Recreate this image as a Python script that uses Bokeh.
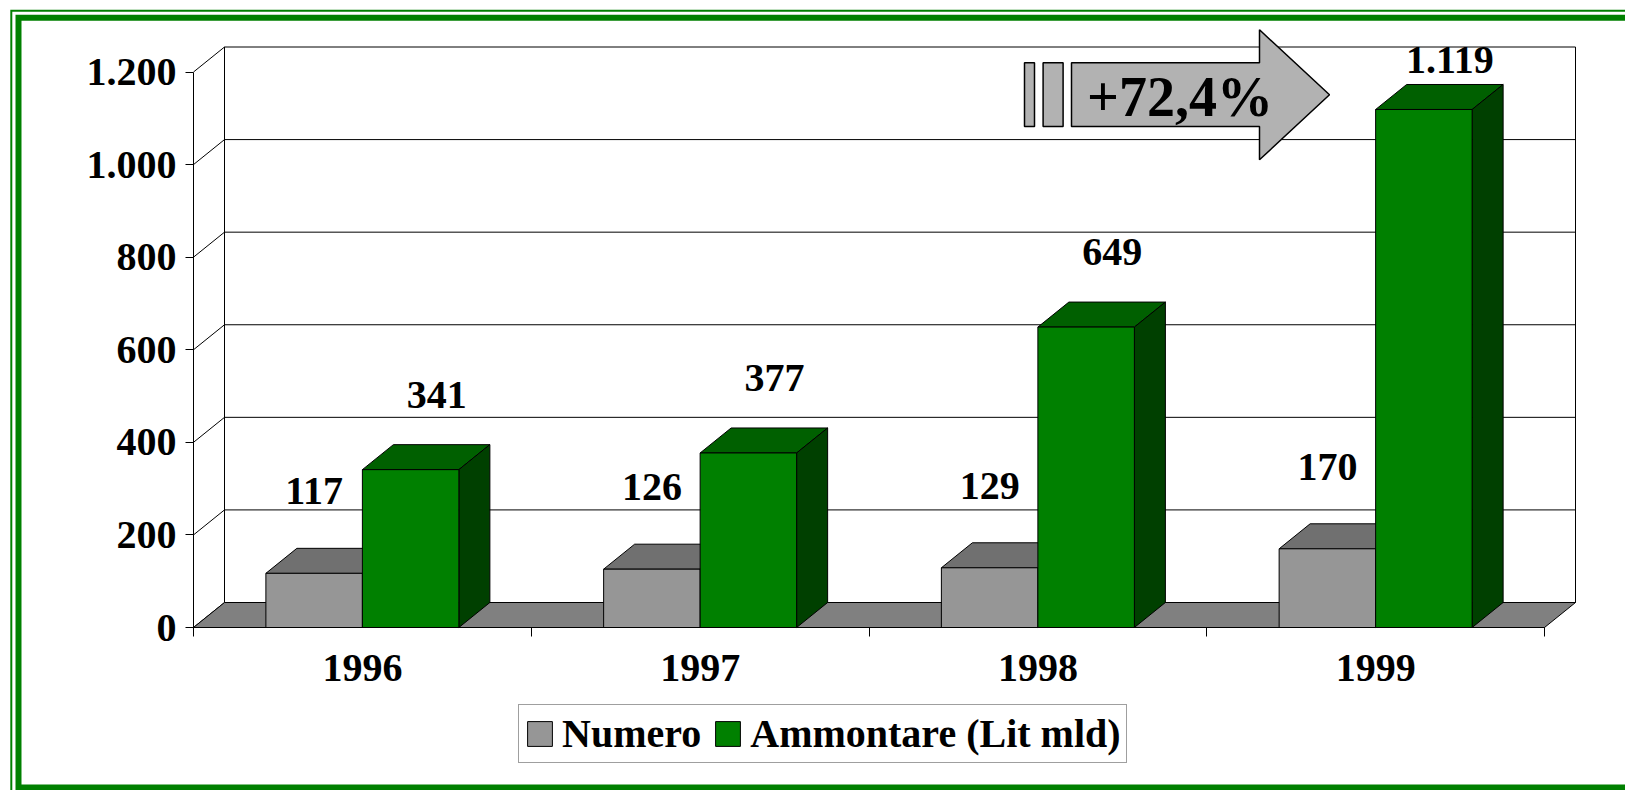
from bokeh.plotting import figure
from bokeh.models import Range1d, FixedTicker, Legend, LegendItem
from bokeh.core.properties import value
from bokeh.embed import file_html
from bokeh.resources import INLINE

# ---------------- data ----------------
years = ["1996", "1997", "1998", "1999"]
numero = [117, 126, 129, 170]
ammontare = [341, 377, 649, 1119]
numero_labels = ["117", "126", "129", "170"]
ammontare_labels = ["341", "377", "649", "1.119"]
y_ticks = [0, 200, 400, 600, 800, 1000, 1200]
y_tick_labels = ["0", "200", "400", "600", "800", "1.000", "1.200"]
series_names = ["Numero", "Ammontare (Lit mld)"]
growth_label = "+72,4%"

# ---------------- layout (pixels) ----------------
W, H = 1625, 790
AX_X, AX_Y = 193.0, 627.0          # front corner of the plot (axis origin)
CAT_PX = (1544.0 - AX_X) / 4.0     # px per category
Y_PX = (AX_Y - 71.5) / 1200.0      # px per unit
n = len(years)


def dx(px):
    return px / CAT_PX


def dy(px):
    return px / Y_PX


def X(px):
    return (px - AX_X) / CAT_PX


def Y(py):
    return (AX_Y - py) / Y_PX


DX, DY = dx(31), dy(25)
BW = 1 / 3.5
FONT = "Liberation Serif"
ymax = max(y_ticks)

p = figure(width=W, height=H, x_range=Range1d(X(0), X(W)), y_range=Range1d(Y(H), Y(0)),
           output_backend="svg", toolbar_location=None, min_border=0,
           min_border_left=0, min_border_right=0, min_border_top=0, min_border_bottom=0)
p.outline_line_color = None
p.grid.visible = False
p.background_fill_color = "white"
p.border_fill_color = "white"

# ---------------- page border (double green frame) ----------------
p.multi_line(xs=[[X(10.8), X(10.8), X(W + 50)]],
             ys=[[Y(H + 50), Y(10.2), Y(10.2)]],
             line_color="#008000", line_width=2, line_join="miter")
p.multi_line(xs=[[X(W + 50), X(18), X(18), X(W + 50)]],
             ys=[[Y(787), Y(787), Y(17.3), Y(17.3)]],
             line_color="#008000", line_width=6, line_join="miter")

# ---------------- walls and floor ----------------
p.quad(left=DX, right=n + DX, bottom=DY, top=ymax + DY,
       fill_color="white", line_color="black", line_width=1)
p.segment(x0=[DX] * (len(y_ticks) - 2), x1=[n + DX] * (len(y_ticks) - 2),
          y0=[t + DY for t in y_ticks[1:-1]], y1=[t + DY for t in y_ticks[1:-1]],
          line_color="black", line_width=1)
p.segment(x0=[0] * len(y_ticks), x1=[DX] * len(y_ticks),
          y0=y_ticks, y1=[t + DY for t in y_ticks], line_color="black", line_width=1)
p.patch([0, n, n + DX, DX], [0, 0, DY, DY], fill_color="#808080",
        line_color="black", line_width=1)


# ---------------- 3D bars ----------------
def bars(vals, left_off, front, top_c, side_c):
    x0s = [i + 0.5 + left_off for i in range(n)]
    x1s = [x + BW for x in x0s]
    tops_x = [[a, b, b + DX, a + DX] for a, b in zip(x0s, x1s)]
    tops_y = [[v, v, v + DY, v + DY] for v in vals]
    sides_x = [[b, b, b + DX, b + DX] for b in x1s]
    sides_y = [[0, v, v + DY, DY] for v in vals]
    p.patches(tops_x, tops_y, fill_color=top_c, line_color="black", line_width=1)
    p.patches(sides_x, sides_y, fill_color=side_c, line_color="black", line_width=1)
    return p.quad(left=x0s, right=x1s, bottom=0, top=vals, fill_color=front,
                  line_color="black", line_width=1)


r_num = bars(numero, -BW, "#969696", "#707070", "#505050")
r_amm = bars(ammontare, 0, "#008000", "#006000", "#004000")

# ---------------- value labels ----------------
cap = Y(59)


def labels(vals, texts, xoff, gap_px):
    xs = [i + 0.5 + xoff for i in range(n)]
    ys = [min(v + DY + dy(gap_px), cap) for v in vals]
    p.text(x=xs, y=ys, text=texts, text_font=value(FONT), text_font_style="bold",
           text_font_size="40px", text_align="center", text_baseline="middle",
           text_color="black")


labels(numero, numero_labels, -BW / 2, 57)
labels(ammontare, ammontare_labels, BW / 2 + dx(26), 50)

# ---------------- growth arrow ----------------
ax = [X(1071), X(1259), X(1259), X(1329), X(1259), X(1259), X(1071)]
ay = [Y(62.3), Y(62.3), Y(29.3), Y(94.3), Y(159.3), Y(126), Y(126)]
p.patch(ax, ay, fill_color="#b2b2b2", line_color="black", line_width=1.5)
p.quad(left=[X(1024), X(1042.6)], right=[X(1034), X(1062.6)],
       bottom=Y(126), top=Y(62.3), fill_color="#b2b2b2", line_color="black", line_width=1.5)
p.text(x=[X(1179.5)], y=[Y(96)], text=[growth_label], text_font=value(FONT),
       text_font_style="bold", text_font_size="56px", text_align="center",
       text_baseline="middle", text_color="black")

# ---------------- axes (fixed at the front corner) ----------------
yax = p.yaxis[0]
yax.fixed_location = 0
yax.ticker = FixedTicker(ticks=y_ticks, minor_ticks=[])
yax.major_label_overrides = {t: l for t, l in zip(y_ticks, y_tick_labels)}
yax.bounds = (0, ymax)
yax.major_tick_out = 8
yax.major_tick_in = 0
yax.minor_tick_line_color = None
yax.major_label_standoff = 9
yax.major_label_text_font = FONT
yax.major_label_text_font_style = "bold"
yax.major_label_text_font_size = "40px"
yax.major_label_text_color = "black"
yax.axis_line_color = "black"
yax.major_tick_line_color = "black"

xax = p.xaxis[0]
xax.fixed_location = 0
centers = [i + 0.5 for i in range(n)]
xax.ticker = FixedTicker(ticks=centers, minor_ticks=list(range(n + 1)))
xax.major_label_overrides = {c: y for c, y in zip(centers, years)}
xax.bounds = (0, n)
xax.major_tick_line_color = None
xax.major_tick_out = 0
xax.major_tick_in = 0
xax.minor_tick_out = 9
xax.minor_tick_in = 0
xax.minor_tick_line_color = "black"
xax.major_label_standoff = 18
xax.major_label_text_font = FONT
xax.major_label_text_font_style = "bold"
xax.major_label_text_font_size = "40px"
xax.major_label_text_color = "black"
xax.axis_line_color = "black"

# ---------------- legend ----------------
LEG_H = 59
legend = Legend(items=[LegendItem(label=series_names[0], renderers=[r_num]),
                       LegendItem(label=series_names[1], renderers=[r_amm])],
                orientation="horizontal", location=(518, H - 704 - LEG_H),
                label_text_font=FONT, label_text_font_style="bold",
                label_text_font_size="40px", label_text_color="black",
                glyph_width=31, glyph_height=31, label_standoff=7, spacing=11,
                padding=5, margin=0, border_line_color="#404040", border_line_width=1,
                background_fill_color="white", background_fill_alpha=1.0)
p.add_layout(legend)

open("out.html", "w").write(file_html(p, INLINE))
